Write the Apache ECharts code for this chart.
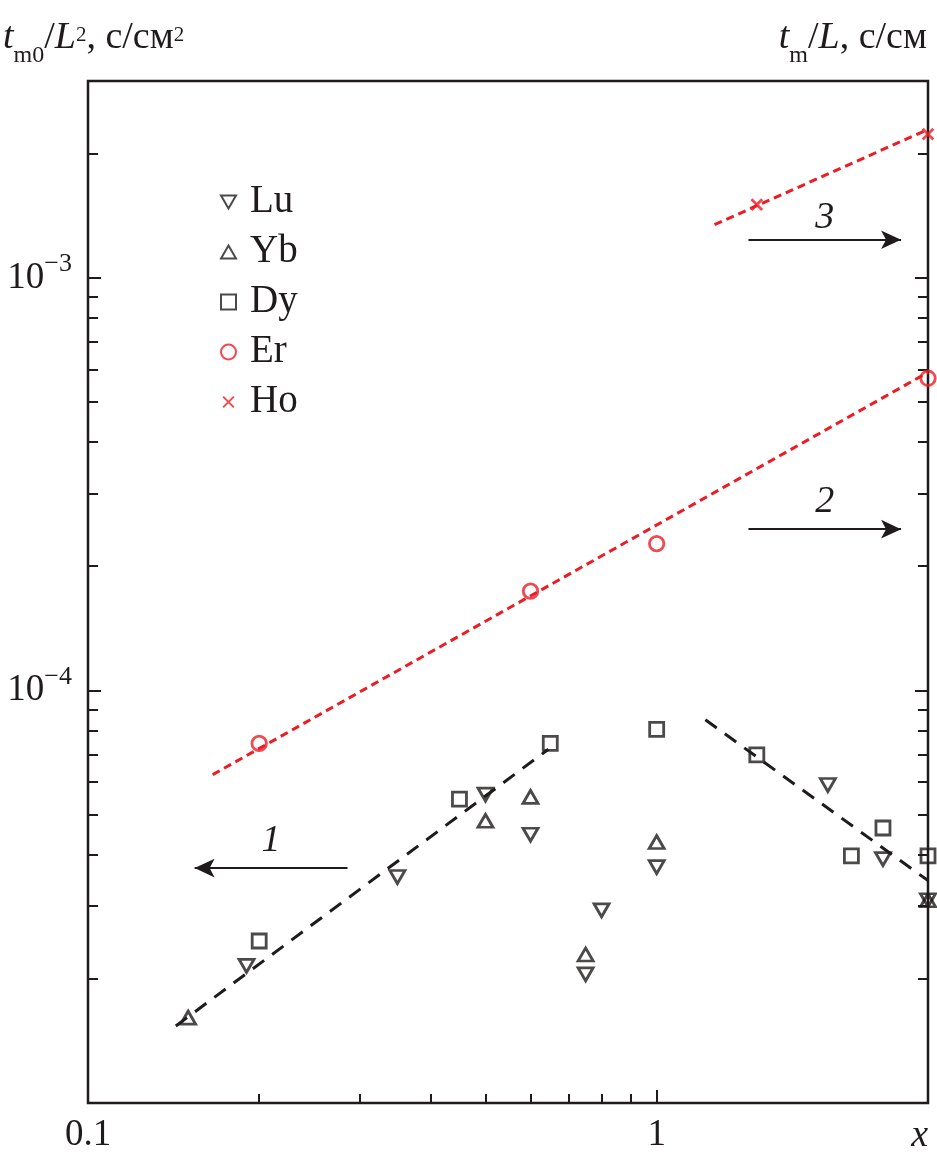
<!DOCTYPE html>
<html><head><meta charset="utf-8">
<script src="https://cdn.jsdelivr.net/npm/echarts@6/dist/echarts.min.js"></script>
<style>html,body{margin:0;padding:0;background:#fff}#c{width:937px;height:1162px}</style>
</head><body><div id="c"></div>
<script>
// ---- data ----
const xLu = [0.19, 0.35, 0.5, 0.6, 0.75, 0.8, 1, 2, 2.5, 3];
const yLu = [2.15e-5, 3.53e-5, 5.59e-5, 4.47e-5, 2.05e-5, 2.93e-5, 3.73e-5, 5.9e-5, 3.9e-5, 3.1e-5];
const xYb = [0.15, 0.5, 0.6, 0.75, 1, 3];
const yYb = [1.61e-5, 4.83e-5, 5.52e-5, 2.29e-5, 4.29e-5, 3.1e-5];
const xDy = [0.2, 0.45, 0.65, 1, 1.5, 2.2, 2.5, 3];
const yDy = [2.47e-5, 5.45e-5, 7.44e-5, 8.05e-5, 6.98e-5, 3.97e-5, 4.64e-5, 3.97e-5];
const xEr = [0.2, 0.6, 1, 3];
const yEr = [7.44e-5, 1.74e-4, 2.27e-4, 5.71e-4];
const xHo = [1.5, 3];
const yHo = [1.505e-3, 2.23e-3];
// fitted lines (end points)
const fit1aX = [0.1427, 0.645], fit1aY = [1.537e-5, 7.2e-5];
const fit1bX = [1.218, 3],      fit1bY = [8.49e-5, 3.46e-5];
const fit2X  = [0.1657, 3],     fit2Y  = [6.25e-5, 5.9e-4];
const fit3X  = [1.264, 3],      fit3Y  = [1.346e-3, 2.29e-3];
// arrows (from x, to x, y) and labels
const arrow1X = [0.286, 0.154], arrow1Y = 3.71e-5;
const arrow2X = [1.45, 2.69],   arrow2Y = 2.46e-4;
const arrow3X = [1.45, 2.69],   arrow3Y = 1.237e-3;
const arrowLabels = ['1', '2', '3'];
// axes
const xRange = [0.1, 3];
const yRange = [1e-5, 3e-3];
const xMinorTicks = [0.2, 0.3, 0.4, 0.5, 0.6, 0.7, 0.8, 0.9];
const yMinorTicks = [2e-5, 3e-5, 4e-5, 5e-5, 6e-5, 7e-5, 8e-5, 9e-5,
                     2e-4, 3e-4, 4e-4, 5e-4, 6e-4, 7e-4, 8e-4, 9e-4, 2e-3];
const legendNames = ['Lu', 'Yb', 'Dy', 'Er', 'Ho'];

// ---- chart ----
const F = 'Liberation Serif';
const ink = '#1f1b1c', red = '#ed1c24';
const pairs = (xs, ys) => xs.map((x, i) => [x, ys[i]]);
const lg = v => Math.log10(v);
const isPow10 = v => Math.abs(lg(v) - Math.round(lg(v))) < 1e-9;
const chart = echarts.init(document.getElementById('c'), null, {renderer: 'canvas'});

const titleRich = {
  i: {fontFamily: F, fontStyle: 'italic', fontWeight: 'normal', fontSize: 38, verticalAlign: 'bottom', padding: [0, 0, 10.5, 0], color: ink},
  n: {fontFamily: F, fontWeight: 'normal', fontSize: 38, verticalAlign: 'bottom', padding: [0, 0, 10.5, 0], color: ink},
  s: {fontFamily: F, fontWeight: 'normal', fontSize: 24, verticalAlign: 'bottom', color: ink},
  p: {fontFamily: F, fontWeight: 'normal', fontSize: 21, verticalAlign: 'top', padding: [6, 0, 0, 0], color: ink}
};

function arrowMark(xs, y, label, dist) {
  return {
    silent: true,
    symbol: ['none', 'arrow'],
    lineStyle: {color: ink, width: 2, type: 'solid'},
    itemStyle: {color: ink},
    label: {show: true, position: 'middle', formatter: label, fontFamily: F, fontStyle: 'italic',
            fontSize: 38, color: ink, distance: dist},
    emphasis: {disabled: true},
    data: [[{coord: [xs[0], y], symbol: 'none'}, {coord: [xs[1], y], symbol: 'arrow', symbolSize: [14, 20]}]]
  };
}
function fitLine(name, xs, ys, color, dash, yIdx, mark) {
  return {
    name, type: 'line', yAxisIndex: yIdx, data: pairs(xs, ys), showSymbol: false, symbol: 'none',
    silent: true, z: 2,
    lineStyle: {color, width: 3, type: dash},
    markLine: mark
  };
}
function scatter(name, xs, ys, symbol, size, color, yIdx) {
  return {
    name, type: 'scatter', yAxisIndex: yIdx, data: pairs(xs, ys), symbol, symbolSize: size,
    clip: false, z: 3, silent: true,
    itemStyle: {color: 'rgba(0,0,0,0)', borderColor: color, borderWidth: 2.8}
  };
}

const noLine = {show: false, onZero: false};
const logX = {type: 'log', logBase: 10, min: xRange[0], max: xRange[1], gridIndex: 0};
const logY = {type: 'log', logBase: 10, min: yRange[0], max: yRange[1], gridIndex: 0};
const triDown = 'path://M0,0L30,0L15,26Z';
const triUp = 'path://M15,0L30,26L0,26Z';
const cross = 'path://M0,0M2,2L12,12M12,2L2,12M14,14';

const option = {
  animation: false,
  backgroundColor: '#fff',
  grid: {left: 88, right: 9, top: 81, bottom: 59, show: true, borderColor: ink, borderWidth: 2.5,
         containLabel: false},
  title: [
    {left: 3, top: 19, padding: 0, text: '{i|t}{s|m0}{n|/}{i|L}{p|2}{n|, с/см}{p|2}',
     textStyle: {fontWeight: 'normal', rich: titleRich}},
    {right: 10, top: 19, padding: 0, text: '{i|t}{s|m}{n|/}{i|L}{n|, с/см}',
     textStyle: {fontWeight: 'normal', rich: titleRich}},
    {right: 9, top: 1117, padding: 0, text: 'x',
     textStyle: {fontFamily: F, fontStyle: 'italic', fontWeight: 'normal', fontSize: 38, lineHeight: 38, color: ink}}
  ],
  legend: {
    orient: 'vertical', left: 215, top: 177, itemWidth: 15, itemHeight: 15, itemGap: 10,
    selectedMode: false, data: legendNames,
    textStyle: {fontFamily: F, fontSize: 39, lineHeight: 40, color: ink, padding: [0, 0, 0, 9]}
  },
  xAxis: [
    Object.assign({}, logX, {
      position: 'bottom',
      axisLine: noLine, splitLine: {show: false},
      axisTick: {show: true, inside: true, length: 13, lineStyle: {color: ink, width: 2}},
      axisLabel: {show: true, margin: 14, fontFamily: F, fontSize: 37, color: ink,
                  showMaxLabel: false,
                  formatter: v => isPow10(v) ? String(Number(Number(v).toPrecision(6))) : ''}
    }),
    {type: 'value', min: lg(xRange[0]), max: lg(xRange[1]), position: 'bottom', gridIndex: 0,
     axisLine: noLine, splitLine: {show: false}, axisLabel: {show: false},
     axisTick: {show: true, inside: true, length: 9, customValues: xMinorTicks.map(lg),
                lineStyle: {color: ink, width: 2}}}
  ],
  yAxis: [
    Object.assign({}, logY, {
      position: 'left',
      axisLine: noLine, splitLine: {show: false},
      axisTick: {show: true, inside: true, length: 13, lineStyle: {color: ink, width: 2}},
      axisLabel: {show: true, margin: 16, padding: [0, 0, 8, 0],
        formatter: v => {
          if (!isPow10(v)) return '';
          const e = Math.round(lg(v));
          if (e <= -5) return '';
          return '{b|10}{e|\u2212' + (-e) + '}';
        },
        rich: {
          b: {fontFamily: F, fontSize: 37, verticalAlign: 'bottom', color: ink},
          e: {fontFamily: F, fontSize: 26, verticalAlign: 'bottom', padding: [0, 0, 19, 0], color: ink}
        }}
    }),
    {type: 'value', min: lg(yRange[0]), max: lg(yRange[1]), position: 'left', gridIndex: 0,
     axisLine: noLine, splitLine: {show: false}, axisLabel: {show: false},
     axisTick: {show: true, inside: true, length: 10, customValues: yMinorTicks.map(lg),
                lineStyle: {color: ink, width: 2}}},
    Object.assign({}, logY, {
      position: 'right',
      axisLine: noLine, splitLine: {show: false}, axisLabel: {show: false},
      axisTick: {show: true, inside: true, length: 13, lineStyle: {color: ink, width: 2}}
    }),
    {type: 'value', min: lg(yRange[0]), max: lg(yRange[1]), position: 'right', gridIndex: 0,
     axisLine: noLine, splitLine: {show: false}, axisLabel: {show: false},
     axisTick: {show: true, inside: true, length: 10, customValues: yMinorTicks.map(lg),
                lineStyle: {color: ink, width: 2}}}
  ],
  series: [
    fitLine('fit1a', fit1aX, fit1aY, ink, [14, 10], 0, arrowMark(arrow1X, arrow1Y, arrowLabels[0], 8)),
    fitLine('fit1b', fit1bX, fit1bY, ink, [14, 10], 0),
    fitLine('fit2', fit2X, fit2Y, red, [8, 5], 2, arrowMark(arrow2X, arrow2Y, arrowLabels[1], 8)),
    fitLine('fit3', fit3X, fit3Y, red, [8, 5], 2, arrowMark(arrow3X, arrow3Y, arrowLabels[2], 3)),
    scatter('Lu', xLu, yLu, triDown, [15, 13], ink, 0),
    scatter('Yb', xYb, yYb, triUp, [15, 13], ink, 0),
    scatter('Dy', xDy, yDy, 'rect', 14, ink, 0),
    scatter('Er', xEr, yEr, 'circle', 14.5, red, 2),
    scatter('Ho', xHo, yHo, cross, 15, red, 2)
  ]
};
chart.setOption(option);
</script>
</body></html>
